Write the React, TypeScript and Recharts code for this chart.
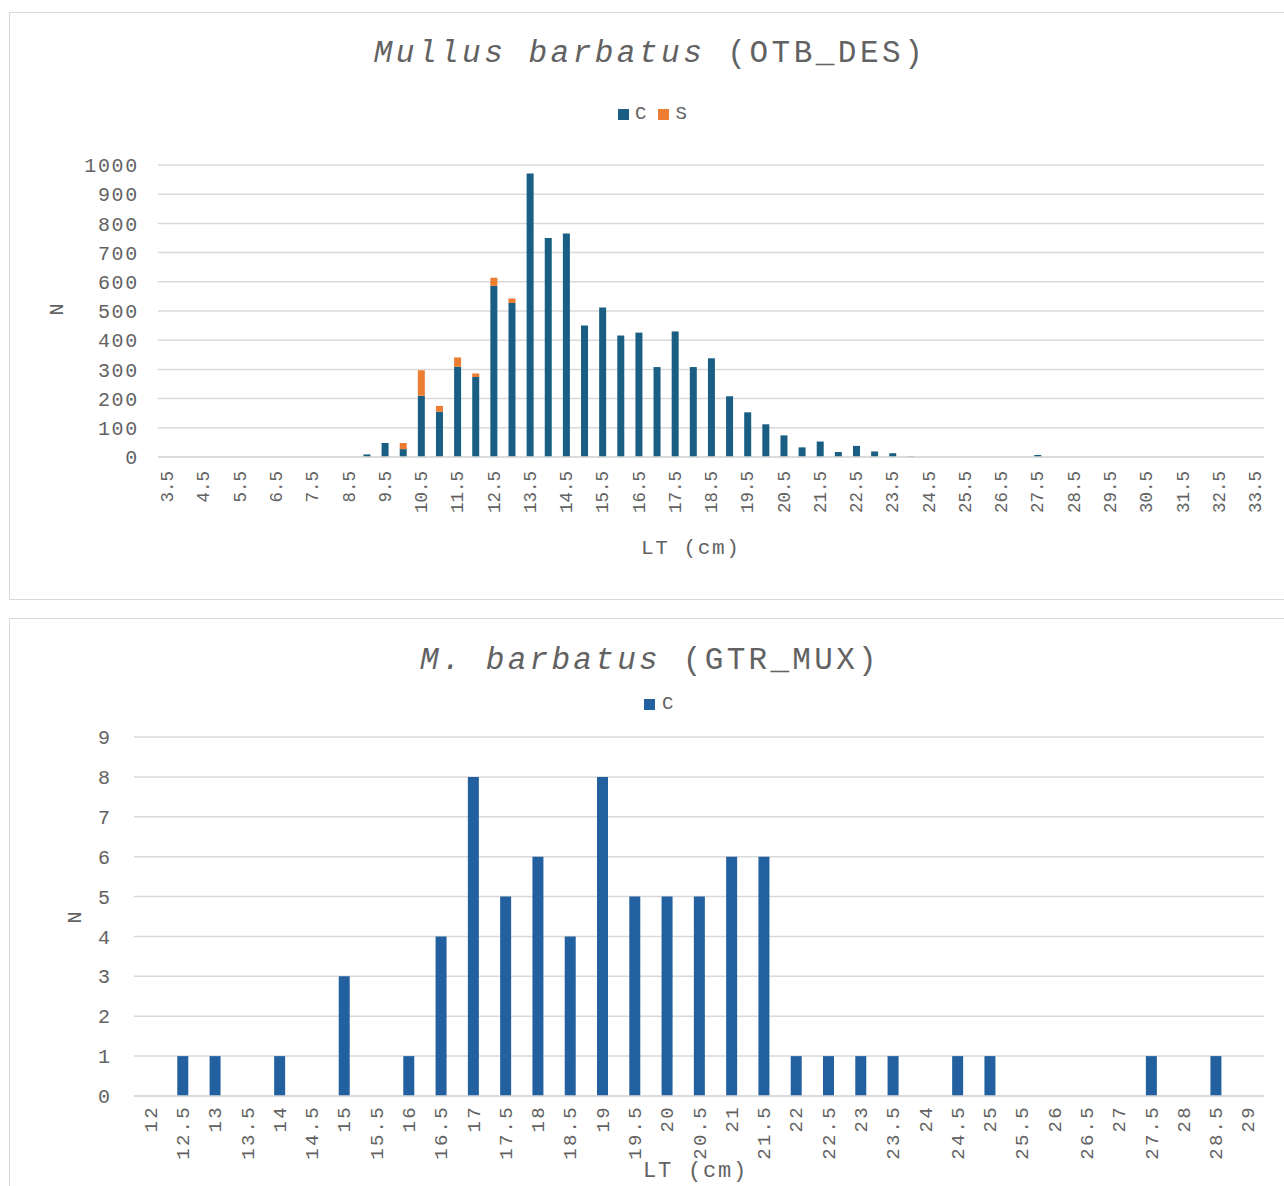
import { BarChart, Bar, XAxis, YAxis, CartesianGrid } from "recharts";

// top chart: OTB_DES length classes
const otbLengths = [
  "3.5", "4", "4.5", "5", "5.5", "6", "6.5", "7", "7.5", "8", "8.5", "9", "9.5", "10",
  "10.5", "11", "11.5", "12", "12.5", "13", "13.5", "14", "14.5", "15", "15.5", "16",
  "16.5", "17", "17.5", "18", "18.5", "19", "19.5", "20", "20.5", "21", "21.5", "22",
  "22.5", "23", "23.5", "24", "24.5", "25", "25.5", "26", "26.5", "27", "27.5", "28",
  "28.5", "29", "29.5", "30", "30.5", "31", "31.5", "32", "32.5", "33", "33.5",
];
const otbC = [
  0, 0, 0, 0, 0, 0, 0, 0, 0, 0, 0, 9, 48, 27,
  210, 155, 309, 274, 586, 527, 971, 750, 765, 450, 512, 416,
  426, 308, 430, 308, 338, 208, 153, 112, 74, 33, 53, 17,
  38, 19, 13, 2, 0, 0, 0, 0, 0, 0, 7, 0,
  0, 0, 0, 0, 0, 0, 0, 0, 0, 0, 0,
];
const otbS = [
  0, 0, 0, 0, 0, 0, 0, 0, 0, 0, 0, 0, 0, 21,
  87, 20, 32, 12, 28, 16, 0, 0, 0, 0, 0, 0,
  0, 0, 0, 0, 0, 0, 0, 0, 0, 0, 0, 0,
  0, 0, 0, 0, 0, 0, 0, 0, 0, 0, 0, 0,
  0, 0, 0, 0, 0, 0, 0, 0, 0, 0, 0,
];
const otbTicks = [0, 100, 200, 300, 400, 500, 600, 700, 800, 900, 1000];

// bottom chart: GTR_MUX
const gtrLengths = [
  "12", "12.5", "13", "13.5", "14", "14.5", "15", "15.5", "16", "16.5", "17", "17.5",
  "18", "18.5", "19", "19.5", "20", "20.5", "21", "21.5", "22", "22.5", "23", "23.5",
  "24", "24.5", "25", "25.5", "26", "26.5", "27", "27.5", "28", "28.5", "29",
];
const gtrC = [
  0, 1, 1, 0, 1, 0, 3, 0, 1, 4, 8, 5,
  6, 4, 8, 5, 5, 5, 6, 6, 1, 1, 1, 1,
  0, 1, 1, 0, 0, 0, 0, 1, 0, 1, 0,
];
const gtrTicks = [0, 1, 2, 3, 4, 5, 6, 7, 8, 9];

const otbData = otbLengths.map((lt, i) => ({ lt, C: otbC[i], S: otbS[i] }));
const gtrData = gtrLengths.map((lt, i) => ({ lt, C: gtrC[i] }));

const FONT = "'Liberation Mono', 'DejaVu Sans Mono', monospace";
const TEXT = "#626262";
const GRID = "#d9d9d9";

function VTick(props: any) {
  const { x, y, payload, fontSize, spacing } = props;
  return (
    <text
      x={x}
      y={y}
      dy="0.35em"
      transform={`rotate(-90, ${x}, ${y})`}
      textAnchor="end"
      fill={TEXT}
      fontFamily={FONT}
      fontSize={fontSize}
      letterSpacing={spacing}
    >
      {payload.value}
    </text>
  );
}

const abs = (extra: any) => ({ position: "absolute" as const, ...extra });

export default function App() {
  return (
    <div style={abs({ left: 0, top: 0, width: 1284, height: 1186, background: "#fff", overflow: "hidden", fontFamily: FONT, color: TEXT })}>
      {/* top panel */}
      <div style={abs({ left: 9, top: 12, width: 1300, height: 586, border: `1.5px solid ${GRID}` })} />
      <div style={abs({ left: 0, top: 36, width: 1300, textAlign: "center", fontSize: 31, letterSpacing: 3.5, whiteSpace: "pre" })}>
        <i>Mullus barbatus</i> (OTB_DES)
      </div>
      <div style={abs({ left: 618, top: 103, display: "flex", alignItems: "center", fontSize: 19, whiteSpace: "pre" })}>
        <span style={{ width: 11, height: 11, background: "#1a5f83", marginRight: 6 }} />
        <span>C</span>
        <span style={{ width: 11, height: 11, background: "#ed7d31", marginLeft: 12, marginRight: 6 }} />
        <span>S</span>
      </div>
      <div style={abs({ left: 51, top: 298, fontSize: 20, transform: "rotate(-90deg)" })}>N</div>
      <div style={abs({ left: 641, top: 537, fontSize: 21, letterSpacing: 1.6, whiteSpace: "pre" })}>LT (cm)</div>
      <div style={abs({ left: 0, top: 0 })}>
        <BarChart
          width={1284}
          height={600}
          data={otbData}
          barSize={7}
          margin={{ top: 165, right: 20, bottom: 83, left: 88 }}
        >
          <CartesianGrid vertical={false} stroke={GRID} strokeWidth={1.5} />
          <XAxis
            dataKey="lt"
            interval={1}
            height={60}
            tickLine={false}
            axisLine={{ stroke: GRID, strokeWidth: 1.5 }}
            tickSize={6}
            tickMargin={8}
            tick={<VTick fontSize={17.5} spacing={0} />}
          />
          <YAxis
            width={70}
            domain={[0, 1000]}
            ticks={otbTicks}
            tickLine={false}
            axisLine={false}
            tickMargin={13}
            tick={{ fill: TEXT, fontFamily: FONT, fontSize: 20, letterSpacing: 1.7 }}
          />
          <Bar dataKey="C" stackId="a" fill="#1a5f83" isAnimationActive={false} />
          <Bar dataKey="S" stackId="a" fill="#ed7d31" isAnimationActive={false} />
        </BarChart>
      </div>

      {/* bottom panel */}
      <div style={abs({ left: 9, top: 618, width: 1300, height: 600, border: `1.5px solid ${GRID}` })} />
      <div style={abs({ left: 0, top: 643, width: 1300, textAlign: "center", fontSize: 31, letterSpacing: 3.3, whiteSpace: "pre" })}>
        <i>M. barbatus</i> (GTR_MUX)
      </div>
      <div style={abs({ left: 644, top: 693, display: "flex", alignItems: "center", fontSize: 19, whiteSpace: "pre" })}>
        <span style={{ width: 11, height: 11, background: "#2360a0", marginRight: 7 }} />
        <span>C</span>
      </div>
      <div style={abs({ left: 69, top: 906, fontSize: 20, transform: "rotate(-90deg)" })}>N</div>
      <div style={abs({ left: 643, top: 1160, fontSize: 22, lineHeight: "24px", letterSpacing: 1.8, whiteSpace: "pre" })}>LT (cm)</div>
      <div style={abs({ left: 0, top: 600 })}>
        <BarChart
          width={1284}
          height={586}
          data={gtrData}
          barSize={11}
          margin={{ top: 137, right: 20, bottom: 30, left: 74 }}
        >
          <CartesianGrid vertical={false} stroke={GRID} strokeWidth={1.5} />
          <XAxis
            dataKey="lt"
            interval={0}
            height={60}
            tickLine={false}
            axisLine={{ stroke: GRID, strokeWidth: 1.5 }}
            tickSize={6}
            tickMargin={3}
            tick={<VTick fontSize={19} spacing={2.3} />}
          />
          <YAxis
            width={60}
            domain={[0, 9]}
            ticks={gtrTicks}
            tickLine={false}
            axisLine={false}
            tickMargin={18}
            tick={{ fill: TEXT, fontFamily: FONT, fontSize: 20 }}
          />
          <Bar dataKey="C" fill="#2360a0" isAnimationActive={false} />
        </BarChart>
      </div>
    </div>
  );
}
